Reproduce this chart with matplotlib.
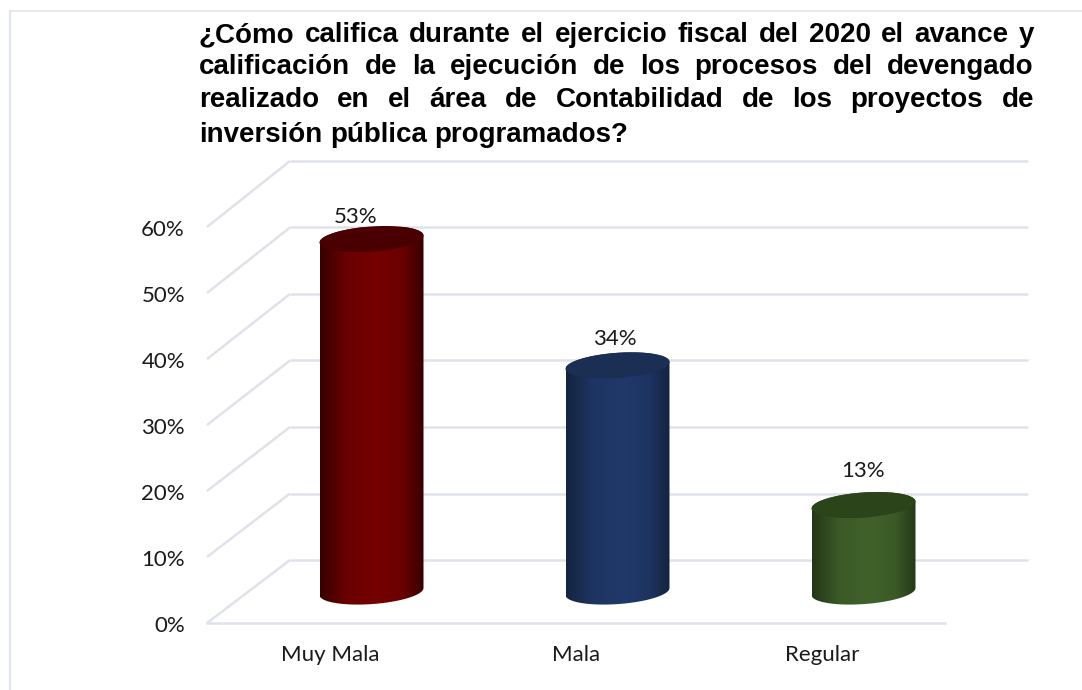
import numpy as np
import matplotlib
matplotlib.use('Agg')
import matplotlib.pyplot as plt
from matplotlib.colors import LinearSegmentedColormap, to_rgb
from matplotlib.lines import Line2D
from matplotlib.patches import Polygon

# Data
categories = ['Muy Mala', 'Mala', 'Regular']
values = [53, 34, 13]
value_labels = ['53%', '34%', '13%']
y_ticks = [0, 10, 20, 30, 40, 50, 60]
y_tick_labels = ['0%', '10%', '20%', '30%', '40%', '50%', '60%']
title_lines = [
    '¿Cómo califica durante el ejercicio fiscal del 2020 el avance y',
    'calificación de la ejecución de los procesos del devengado',
    'realizado en el área de Contabilidad de los proyectos de',
    'inversión pública programados?',
]

# Colours: edge of the cylinder, centre of the cylinder, top cap
edge_colors = ['#360000', '#14233f', '#243618']
mid_colors = ['#760000', '#20396a', '#40622a']
top_colors = ['#4a0000', '#1b2f55', '#2c4419']
grid_color = '#dfe2ea'
border_color = '#e1e6ee'

W, H = 1082, 690
fig = plt.figure(figsize=(W / 100, H / 100), dpi=100, facecolor='white')

# Axes covers the front of the floor: 207..945 px wide, 0% at y=623 px
px_per_pct = 6.6
ax_left, ax_right, ax_base = 207, 945, 623
ax_top = ax_base - 60 * px_per_pct
ax = fig.add_axes([ax_left / W, (H - ax_base) / H,
                   (ax_right - ax_left) / W, (ax_base - ax_top) / H])
ax.set_xlim(-0.5, 2.5)
ax.set_ylim(0, 60)
ax.axis('off')

px_x = 3 / (ax_right - ax_left)  # category units per pixel
px_y = 1 / px_per_pct            # percent units per pixel
depth_x = 83 * px_x
depth_y = 63 * px_y
back_scale = 6.65 / 6.6          # back wall is slightly taller than the ticks

# Floor, walls and gridlines
for t in y_ticks:
    back = t * back_scale + depth_y
    ax.plot([-0.5, -0.5 + depth_x], [t, back], color=grid_color, lw=1.8,
            clip_on=False, solid_capstyle='butt')
    ax.plot([-0.5 + depth_x, 2.5 + depth_x], [back, back], color=grid_color,
            lw=1.8, clip_on=False, solid_capstyle='butt')
ax.plot([-0.5, 2.5], [0, 0], color=grid_color, lw=1.8, clip_on=False)


def blend(c1, c2, f):
    return tuple(a + (b - a) * f for a, b in zip(to_rgb(c1), to_rgb(c2)))


# Cylinders
half_w = 52 * px_x
cap_k = 3.5 * px_y
cap_b = 12.6 * px_y
t = np.linspace(0, 2 * np.pi, 200)
base_y = depth_y / 2
for i, v in enumerate(values):
    cx = i + depth_x / 2
    top_y = base_y + v * back_scale
    ex = cx + half_w * np.cos(t)
    cap = np.column_stack([ex, top_y + cap_k * np.cos(t) + cap_b * np.sin(t)])
    low = np.column_stack([ex, base_y + cap_k * np.cos(t) + cap_b * np.sin(t)])

    # Body outline: lower half of the base ellipse plus the whole top
    lower = low[(t >= np.pi) & (t <= 2 * np.pi)]
    upper = cap[(t >= 0) & (t <= np.pi)]
    body = Polygon(np.vstack([lower, upper]), closed=True, facecolor='none',
                   edgecolor='none', transform=ax.transData, clip_on=False)
    ax.add_patch(body)

    shade = blend(edge_colors[i], mid_colors[i], 0.8)
    cmap = LinearSegmentedColormap.from_list(
        'cyl', [(0, edge_colors[i]), (0.25, shade), (0.55, mid_colors[i]),
                (0.8, shade), (1, edge_colors[i])])
    grad = np.linspace(0, 1, 256).reshape(1, -1)
    im = ax.imshow(grad, cmap=cmap, aspect='auto', interpolation='bilinear',
                   extent=[cx - half_w, cx + half_w, base_y - 3, top_y + 3],
                   zorder=3)
    im.set_clip_path(body)
    ax.add_patch(Polygon(cap, closed=True, facecolor=top_colors[i],
                         edgecolor='none', zorder=4, clip_on=False))
ax.set_xlim(-0.5, 2.5)
ax.set_ylim(0, 60)

font = 'Lato'
text_size = 16
# Value labels sit by hand above the caps, like in the original
label_dx = [-16, -3, 0]
label_dy = [22, 26, 34]
for i, v in enumerate(values):
    cx = i + depth_x / 2
    ax.text(cx + label_dx[i] * px_x, base_y + v * back_scale + label_dy[i] * px_y,
            value_labels[i], ha='center', va='center', fontsize=text_size,
            family=font, color='#1a1a1a', clip_on=False)

for t_val, lab in zip(y_ticks, y_tick_labels):
    ax.text(-0.5 - 22 * px_x, t_val - 3 * px_y, lab, ha='right', va='center',
            fontsize=text_size, family=font, color='#1a1a1a', clip_on=False)
for i, c in enumerate(categories):
    ax.text(i, -32 * px_y, c, ha='center', va='center', fontsize=text_size,
            family=font, color='#1a1a1a', clip_on=False)

# Title, justified by hand between two x limits
renderer = fig.canvas.get_renderer()
title_x0, title_x1 = 199, 1034
title_y = [35, 67, 100, 135]
for n, line in enumerate(title_lines):
    words = line.split(' ')
    items = [fig.text(0, 1 - title_y[n] / H, w, fontsize=20, fontweight='bold',
                      family='Liberation Sans', va='center', color='black')
             for w in words]
    widths = [it.get_window_extent(renderer).width for it in items]
    if n < len(title_lines) - 1:
        gap = (title_x1 - title_x0 - sum(widths)) / (len(words) - 1)
    else:
        gap = 7.7
    x = title_x0
    for it, w in zip(items, widths):
        it.set_x(x / W)
        x += w + gap

# Frame around the picture: only the top and left edges show
fig.add_artist(Line2D([10 / W, 1], [1 - 11 / H, 1 - 11 / H],
                      color=border_color, lw=1.2))
fig.add_artist(Line2D([10 / W, 10 / W], [1 - 11 / H, 0],
                      color=border_color, lw=1.6))

fig.savefig('out.png', dpi=100, facecolor='white')
